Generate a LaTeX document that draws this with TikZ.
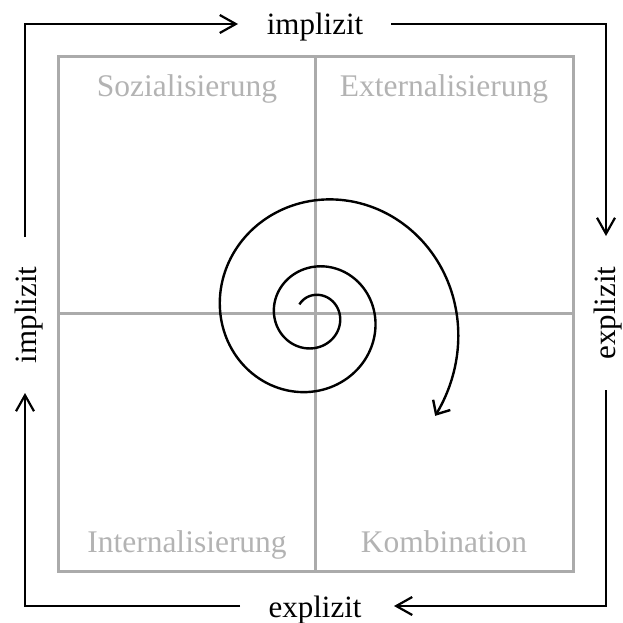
\documentclass[tikz,border=0pt]{standalone}
\usepackage{fontspec}
\setmainfont{Liberation Serif}
\usetikzlibrary{arrows.meta}
\definecolor{gridgray}{HTML}{ABABAB}
\definecolor{labgray}{HTML}{B3B3B3}
\begin{document}
\begin{tikzpicture}[x=1pt,y=-1pt,
  gridline/.style={draw=gridgray,line width=3pt},
  frameline/.style={draw=black,line width=2.2pt},
  arr/.style={frameline,-{Straight Barb[length=16pt,width=18pt,line width=2.2pt]}},
  spiralline/.style={draw=black,line width=2.4pt,-{Straight Barb[length=11pt,width=20pt,line width=2.4pt]}},
  lab/.style={font=\fontsize{31}{37}\selectfont,text=black,inner sep=0pt,anchor=base},
  quad/.style={font=\fontsize{31.5}{37}\selectfont,text=labgray,inner sep=0pt,anchor=base}]
\useasboundingbox (0,0) rectangle (622,623);
% grid
\draw[gridline] (58,57) rectangle (573,571);
\draw[gridline] (315,57) -- (315,571);
\draw[gridline] (58,313) -- (573,313);
% quadrant labels
\node[quad] (soz) at (187,97) {Sozialisierung};
\node[quad] (ext) at (444,97) {Externalisierung};
\node[quad] (int) at (187,552) {Internalisierung};
\node[quad] (kom) at (444,552) {Kombination};
% frame labels
\node[lab] (ltop) at (315,35) {implizit};
\node[lab] (lbot) at (315,617) {explizit};
\node[lab,rotate=90] (lleft) at (36,315) {implizit};
\node[lab,rotate=90] (lright) at (615,313) {explizit};
% frame coordinates
\coordinate (tl) at (25,24);
\coordinate (tr) at (606,24);
\coordinate (br) at (606,606);
\coordinate (bl) at (25,606);
\coordinate (lA) at (25,237);
\coordinate (tA) at (238,24);
\coordinate (tB) at (391,24);
\coordinate (rA) at (606,236);
\coordinate (rB) at (606,390);
\coordinate (bA) at (394,606);
\coordinate (bB) at (240,606);
\coordinate (lB) at (25,393);
\draw[arr] (lA) -- (tl) -- (tA);
\draw[arr] (tB) -- (tr) -- (rA);
\draw[arr] (rB) -- (br) -- (bA);
\draw[arr] (bB) -- (bl) -- (lB);
% spiral
\draw[spiralline] plot[domain=-0.9:14.83, samples=300, smooth, variable=\t]
  ({314+21*exp(0.1357*\t)*sin(\t r)}, {316-21*exp(0.1357*\t)*cos(\t r)});
\end{tikzpicture}
\end{document}
